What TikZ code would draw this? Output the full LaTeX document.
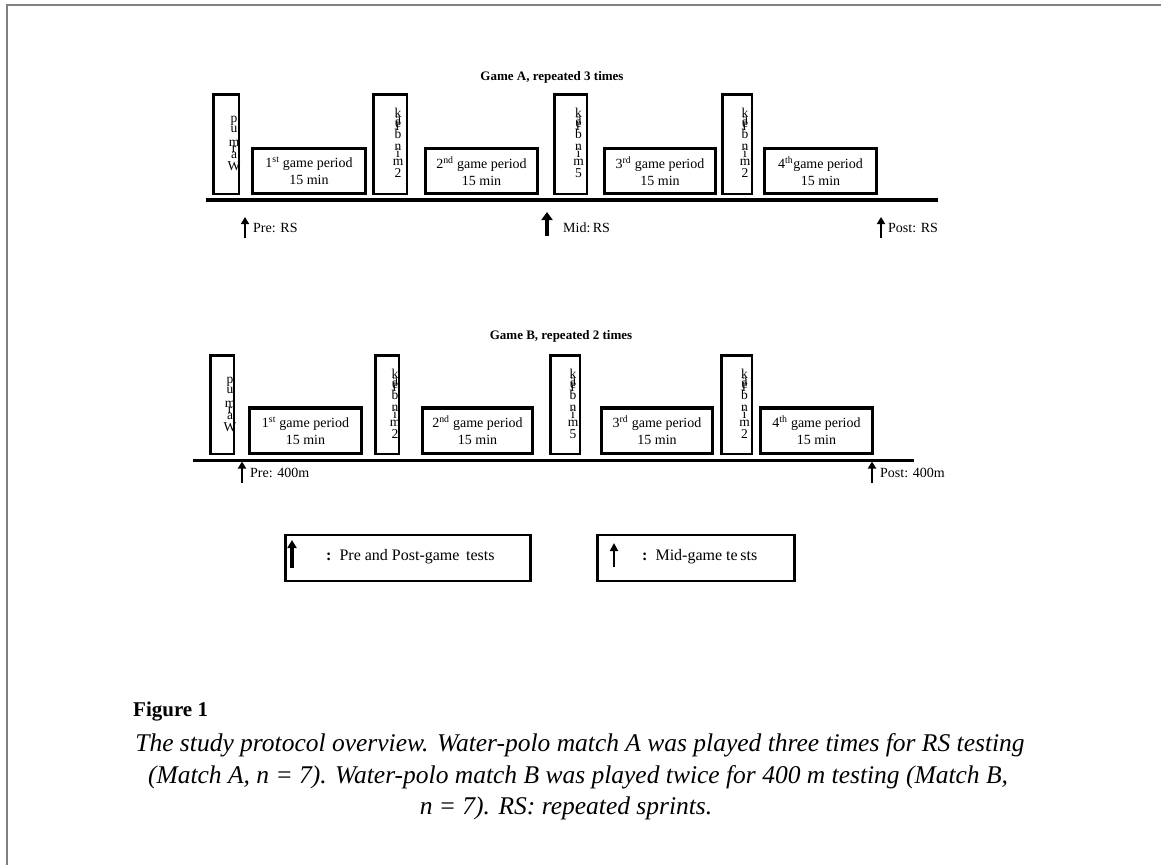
\documentclass[tikz,border=0pt]{standalone}
\usepackage{fontspec}
\setmainfont{Liberation Serif}
\usetikzlibrary{arrows.meta,calc}
\begin{document}
\begin{tikzpicture}[x=1pt,y=-1pt,
  gbox/.style={draw, line width=3pt, inner sep=0pt, align=center, font=\fontsize{14}{17}\selectfont, minimum height=45pt},
  tbox/.style={draw, line width=2.5pt, inner sep=0pt, minimum height=99.5pt},
  lt/.style={inner sep=0pt, font=\fontsize{13.5}{13.5}\selectfont},
  lbl/.style={anchor=west, inner sep=0pt, font=\fontsize{14}{16}\selectfont},
  ttl/.style={inner sep=0pt, font=\fontsize{13}{15}\selectfont\bfseries},
  thinarr/.style={line width=1.6pt, -{Triangle[width=8pt,length=7pt]}},
  thickarr/.style={line width=4pt, -{Triangle[width=11pt,length=8pt]}},
  baseln/.style={line width=3pt},
  legbox/.style={draw, line width=2.5pt, inner sep=0pt, minimum height=46pt},
  legtxt/.style={anchor=west, inner sep=0pt, font=\fontsize{16}{18}\selectfont},
  frame/.style={draw=black!50, line width=1.5pt},
  capt/.style={inner sep=0pt, font=\fontsize{25.5}{29}\selectfont\itshape},
]
\useasboundingbox (0,0) rectangle (1161,865);
% frame
\coordinate (fr1) at (1161,5);
\coordinate (fr2) at (7,5);
\coordinate (fr3) at (7,865);
\draw[frame] (fr1) -- (fr2) -- (fr3);

\newcommand{\brkstack}[2]{%
  \foreach \l/\dy in {k/20,a/27,e/31,r/34,b/41,n/54,i/60,m/69,#2/80}
    \node[lt] (#1-\l) at ($(#1.north)+(8,\dy)$) {\l};}
\newcommand{\warmstack}[1]{%
  \foreach \l/\dy in {p/28,u/36,m/50,r/56,a/62,W/73}
    \node[lt] (#1-\l) at ($(#1.north)+(8,\dy)$) {\l};}

% ---------------- Game A ----------------
\node[ttl] (titleA) at (552,77) {Game A, repeated 3 times};
\node[tbox, minimum width=25.5pt] (warmA) at (226,144) {};
\node[gbox, minimum width=113pt] (g1A) at (309,171) {1\textsuperscript{st} game period\\15 min};
\node[tbox, minimum width=33.5pt] (b1A) at (390,144) {};
\node[gbox, minimum width=112pt] (g2A) at (481.5,171) {2\textsuperscript{nd} game period\\15 min};
\node[tbox, minimum width=32.5pt] (b2A) at (570.5,144) {};
\node[gbox, minimum width=111pt] (g3A) at (660,171) {3\textsuperscript{rd} game period\\15 min};
\node[tbox, minimum width=29.5pt] (b3A) at (737,144) {};
\node[gbox, minimum width=112pt] (g4A) at (820.5,171) {4\textsuperscript{th}game period\\15 min};
\warmstack{warmA}
\brkstack{b1A}{2}
\brkstack{b2A}{5}
\brkstack{b3A}{2}
\coordinate (blA1) at (206,200);
\coordinate (blA2) at (938,200);
\draw[baseln, line width=3.5pt] (blA1) -- (blA2);
\coordinate (preA0) at (245,238); \coordinate (preA1) at (245,217);
\draw[thinarr] (preA0) -- (preA1);
\node[lbl] (preAl) at (253,228) {Pre: RS};
\coordinate (midA0) at (547,236); \coordinate (midA1) at (547,212);
\draw[thickarr] (midA0) -- (midA1);
\node[lbl] (midAl) at (563,228) {Mid:\,RS};
\coordinate (postA0) at (881,238); \coordinate (postA1) at (881,217);
\draw[thinarr] (postA0) -- (postA1);
\node[lbl] (postAl) at (888,228) {Post: RS};

% ---------------- Game B ----------------
\node[ttl] (titleB) at (561,336) {Game B, repeated 2 times};
\node[tbox, minimum width=23.5pt, minimum height=98.5pt] (warmB) at (222,404.5) {};
\node[gbox, line width=3.5pt, minimum width=112pt, minimum height=45.5pt] (g1B) at (305.5,430.5) {1\textsuperscript{st} game period\\15 min};
\node[tbox, minimum width=23.5pt, minimum height=98.5pt] (b1B) at (387,404.5) {};
\node[gbox, line width=3.5pt, minimum width=110pt, minimum height=45.5pt] (g2B) at (477.5,430.5) {2\textsuperscript{nd} game period\\15 min};
\node[tbox, minimum width=29.5pt, minimum height=98.5pt] (b2B) at (565,404.5) {};
\node[gbox, line width=3.5pt, minimum width=111pt, minimum height=45.5pt] (g3B) at (657,430.5) {3\textsuperscript{rd} game period\\15 min};
\node[tbox, minimum width=30.5pt, minimum height=98.5pt] (b3B) at (736.5,404.5) {};
\node[gbox, line width=3.5pt, minimum width=112pt, minimum height=45.5pt] (g4B) at (816.5,430.5) {4\textsuperscript{th} game period\\15 min};
\warmstack{warmB}
\brkstack{b1B}{2}
\brkstack{b2B}{5}
\brkstack{b3B}{2}
\coordinate (blB1) at (193,460);
\coordinate (blB2) at (914,460);
\draw[baseln] (blB1) -- (blB2);
\coordinate (preB0) at (242,483); \coordinate (preB1) at (242,461.5);
\draw[thinarr, line width=2.2pt] (preB0) -- (preB1);
\node[lbl] (preBl) at (250,473) {Pre: 400m};
\coordinate (postB0) at (872,483); \coordinate (postB1) at (872,461.5);
\draw[thinarr, line width=2.2pt] (postB0) -- (postB1);
\node[lbl] (postBl) at (880,473) {Post: 400m};

% ---------------- Legend ----------------
\node[legbox, minimum width=245pt] (leg1) at (408,558) {};
\coordinate (lg1a) at (292,568); \coordinate (lg1b) at (292,540);
\draw[line width=3.5pt, -{Triangle[width=9pt,length=8pt]}] (lg1a) -- (lg1b);
\node[legtxt] (leg1t) at (326,557) {\textbf{:}\, Pre and Post-game\, tests};
\node[legbox, minimum width=197pt] (leg2) at (696,558) {};
\coordinate (lg2a) at (614,567); \coordinate (lg2b) at (614,543);
\draw[line width=1.8pt, -{Triangle[width=8pt,length=8pt]}] (lg2a) -- (lg2b);
\node[legtxt] (leg2t) at (642,557) {\textbf{:}\, Mid-game te\,sts};

% ---------------- Caption ----------------
\node[inner sep=0pt, anchor=west, font=\fontsize{21}{24}\selectfont\bfseries] (fig) at (133,712) {Figure 1};
\node[capt] (c1) at (580,745) {The study protocol overview. Water-polo match A was played three times for RS testing};
\node[capt] (c2) at (578,777) {(Match A, n = 7). Water-polo match B was played twice for 400 m testing (Match B,};
\node[capt] (c3) at (566,808) {n = 7). RS: repeated sprints.};
\end{tikzpicture}
\end{document}
